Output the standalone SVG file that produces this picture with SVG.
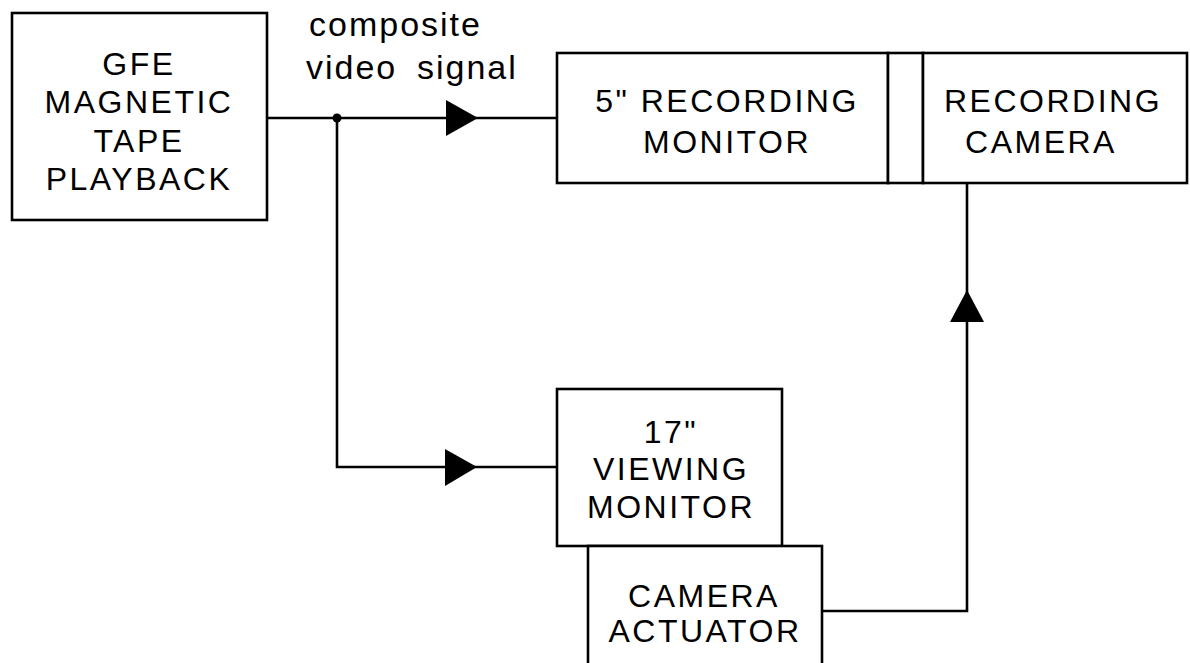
<svg xmlns="http://www.w3.org/2000/svg" width="1190" height="663" viewBox="0 0 1190 663">
<defs>
<style>
.box{fill:#fff;stroke:#000;stroke-width:2.6}
.ln{fill:none;stroke:#000;stroke-width:2.6}
.cap{font-family:"Liberation Sans",Arial,sans-serif;font-size:32px;letter-spacing:2.5px;text-anchor:middle;fill:#000}
.lc{font-family:"Liberation Sans",Arial,sans-serif;font-size:34px;letter-spacing:2px;fill:#000}
.ah{fill:#000;stroke:none}
</style>
</defs>
<rect width="1190" height="663" fill="#fff"/>
<g id="connectors">
<path class="ln" d="M267 118 H557"/>
<path class="ln" d="M337 118 V467 H557"/>
<path class="ln" d="M822 611 H967 V183"/>
<circle cx="337" cy="118" r="4.5" fill="#000"/>
<polygon class="ah" points="446,100 478,118 446,136"/>
<polygon class="ah" points="445,449 477,467 445,486"/>
<polygon class="ah" points="967,290 984,322 950,322"/>
</g>
<g id="label-signal">
<text class="lc" x="309" y="36">composite</text>
<text class="lc" x="306" y="79">video</text>
<text class="lc" x="417" y="79">signal</text>
</g>
<g id="gfe-playback">
<rect class="box" x="12" y="13" width="255" height="207"/>
<text class="cap" x="139" y="75">GFE</text>
<text class="cap" x="139" y="113">MAGNETIC</text>
<text class="cap" x="139" y="152">TAPE</text>
<text class="cap" x="139" y="190">PLAYBACK</text>
</g>
<g id="recording-monitor">
<rect class="box" x="557" y="53" width="331" height="130"/>
<text class="cap" x="727" y="112">5" RECORDING</text>
<text class="cap" x="727" y="153">MONITOR</text>
</g>
<g id="coupler">
<rect class="box" x="888" y="53" width="35" height="130"/>
</g>
<g id="recording-camera">
<rect class="box" x="923" y="53" width="264" height="130"/>
<text class="cap" x="1053" y="112">RECORDING</text>
<text class="cap" x="1041" y="153">CAMERA</text>
</g>
<g id="viewing-monitor">
<rect class="box" x="557" y="389" width="225" height="157"/>
<text class="cap" x="671" y="443">17"</text>
<text class="cap" x="671" y="480">VIEWING</text>
<text class="cap" x="671" y="518">MONITOR</text>
</g>
<g id="camera-actuator">
<rect class="box" x="588" y="546" width="234" height="130"/>
<text class="cap" x="704" y="607">CAMERA</text>
<text class="cap" x="705" y="642">ACTUATOR</text>
</g>
</svg>
